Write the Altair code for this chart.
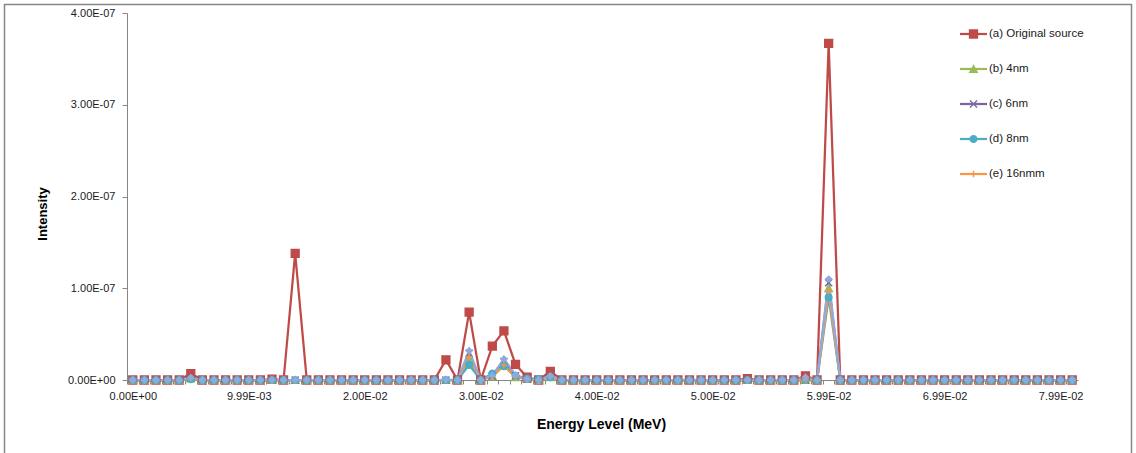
import json
import altair as alt
import pandas as pd

# ---- data (intensity values in units of 1e-9) ----
x_tick_labels = ["0.00E+00", "9.99E-03", "2.00E-02", "3.00E-02", "4.00E-02",
                 "5.00E-02", "5.99E-02", "6.99E-02", "7.99E-02"]
y_tick_labels = ["0.00E+00", "1.00E-07", "2.00E-07", "3.00E-07", "4.00E-07"]
y_tick_values = [0, 1e-7, 2e-7, 3e-7, 4e-7]

series_names = ["(a) Original source", "(b) 4nm", "(c) 6nm", "(d) 8nm", "(e) 16nmm", "series 6"]
legend_names = series_names[:5]

s_a = [0, 0, 0, 0, 0, 7, 0, 0, 0, 0,
       0, 0, 1, 0, 138, 0, 0, 0, 0, 0,
       0, 0, 0, 0, 0, 0, 0, 22, 0, 74,
       0, 37, 53.5, 17, 3, 0, 9.5, 0, 0, 0,
       0, 0, 0, 0, 0, 0, 0, 0, 0, 0,
       0, 0, 0, 1.5, 0, 0, 0, 0, 4.5, 0,
       367, 0, 0, 0, 0, 0, 0, 0, 0, 0,
       0, 0, 0, 0, 0, 0, 0, 0, 0, 0,
       0, 0]
s_b = [0, 0, 0, 0, 0, 1.5, 0, 0, 0, 0,
       0, 0, 0, 0, 0, 0, 0, 0, 0, 0,
       0, 0, 0, 0, 0, 0, 0, 0, 0, 21,
       0, 4, 15.5, 3, 1, 0, 3, 0, 0, 0,
       0, 0, 0, 0, 0, 0, 0, 0, 0.5, 0,
       0, 0, 0, 0, 0, 0, 0, 0, 0, 0,
       100, 0, 0, 0, 0, 0, 0, 0, 0, 0,
       0, 0, 0, 0, 0, 0, 0, 0, 0, 0,
       0, 0]
s_c = [0, 0, 0, 0, 0, 2, 0, 0, 0, 0,
       0, 0, 0, 0, 0, 0, 0, 0, 0, 0,
       0, 0, 0, 0, 0, 0, 0, 0, 0, 29,
       0, 4.5, 20, 4.5, 1, 0, 4, 0, 0, 0,
       0, 0, 0, 0, 0, 0, 0, 0, 0, 0,
       0, 0, 0, 0, 0, 0, 0, 0, 0, 0,
       106, 0, 0, 0, 0, 0, 0, 0, 0, 0,
       0, 0, 0, 0, 0, 0, 0, 0, 0, 0,
       0, 0]
s_d = [0, 0, 0, 0, 0, 1, 0, 0, 0, 0,
       0, 0, 0, 0, 0, 0, 0, 0, 0, 0,
       0, 0, 0, 0, 0, 0, 0, 0, 0, 16.5,
       0, 7, 15, 4.5, 1.5, 1, 3, 0, 0, 0,
       0, 0, 0, 0, 0, 0, 0, 0, 0, 0,
       0, 0, 0, 0, 0, 0, 0, 0, 0, 0,
       90, 0, 0, 0, 0, 0, 0, 0, 0, 0,
       0, 0, 0, 0, 0, 0, 0, 0, 0, 0,
       0, 0]
s_e = [0, 0, 0, 0, 0, 1.5, 0, 0, 0, 0,
       0, 0, 0, 0, 0, 0, 0, 0, 0, 0,
       0, 0, 0, 0, 0, 0, 0, 0, 0, 25.5,
       0, 4, 16, 3.5, 1, 0, 3.5, 0, 0, 0,
       0, 0, 0, 0, 0, 0, 0, 0, 0, 0,
       0, 0, 0, 0, 0, 0, 0, 0, 0, 0,
       97, 0, 0, 0, 0, 0, 0, 0, 0, 0,
       0, 0, 0, 0, 0, 0, 0, 0, 0, 0,
       0, 0]
s_f = [0, 0, 0, 0, 0, 2.5, 0, 0, 0, 0,
       0, 0, 0, 0, 0, 0, 0, 0, 0, 0,
       0, 0, 0, 0, 0, 0, 0, 0.5, 0, 32,
       0, 5, 23, 5.5, 1, 0, 4.5, 0, 0, 0,
       0, 0, 0, 0, 0, 0, 0, 0, 0, 0,
       0, 0, 0, 0, 0, 0, 0, 0, 3, 0,
       110, 0, 0, 0, 0, 0, 0, 0, 0, 0,
       0, 0, 0, 0, 0, 0, 0, 0, 0, 0,
       0, 0]

all_series = [s_a, s_b, s_c, s_d, s_e, s_f]
colors = ["#BE4B48", "#9BBB59", "#8064A2", "#4BACC6", "#F79646", "#8FAADC"]
shapes = ["square", "triangle-up", "M-1,-1L1,1M-1,1L1,-1", "circle", "M-1,0H1M0,-1V1", "diamond"]
sizes = [62, 34, 40, 30, 44, 36]

rows = []
for name, vals in zip(series_names, all_series):
    for i, v in enumerate(vals):
        rows.append({"series": name, "idx": i, "value": v * 1e-9})
df = pd.DataFrame(rows)
legend_df = pd.DataFrame({"series": legend_names})

FONT = "Liberation Sans"
GRAY = "#868686"
TXT = "#1a1a1a"
n_cat = len(s_a)
W, H = 951, 367
half = W / n_cat / 2

cscale = alt.Scale(domain=series_names, range=colors)
shscale = alt.Scale(domain=series_names, range=shapes)
szscale = alt.Scale(domain=series_names, range=sizes)
xscale = alt.Scale(domain=[-0.5, n_cat - 0.5], nice=False, zero=False)
yscale = alt.Scale(domain=[0, 4e-7], nice=False)

x_expr = ("datum.value % 10 === 0 && datum.value <= 80 ? "
          + json.dumps(x_tick_labels) + "[datum.value / 10] : ''")
y_expr = json.dumps(y_tick_labels) + "[round(datum.value * 1e7)]"


def x_axis():
    return alt.Axis(values=list(range(0, n_cat + 1)), tickOffset=-half, labelOffset=half,
                    labelExpr=x_expr, grid=False, domainColor=GRAY, tickColor=GRAY,
                    tickSize=4, labelPadding=6, labelFontSize=11, labelFont=FONT,
                    labelColor=TXT, labelOverlap=False, labelFlush=False, labelBound=False,
                    title="Energy Level (MeV)", titleX=474, titleY=44, titleFont=FONT,
                    titleFontSize=14, titleFontWeight="bold", titleColor="#000000",
                    titleAlign="center", titleBaseline="middle")


def y_axis():
    return alt.Axis(values=y_tick_values, labelExpr=y_expr, grid=False, domainColor=GRAY,
                    tickColor=GRAY, tickSize=5, labelPadding=7, labelFontSize=11,
                    labelFont=FONT, labelColor=TXT, title="Intensity", titleX=-85,
                    titleY=H / 2 + 17, titleFont=FONT, titleFontSize=13,
                    titleFontWeight="bold", titleColor="#000000", titleAlign="center",
                    titleBaseline="middle")


base = alt.Chart(df)
lines = base.mark_line(strokeWidth=2.25, strokeJoin="round").encode(
    x=alt.X("idx:Q", scale=xscale, axis=x_axis()),
    y=alt.Y("value:Q", scale=yscale, axis=y_axis()),
    color=alt.Color("series:N", scale=cscale, legend=None),
)
points = base.mark_point(filled=True, strokeWidth=1.4, opacity=1).encode(
    x=alt.X("idx:Q", scale=xscale, axis=x_axis()),
    y=alt.Y("value:Q", scale=yscale, axis=y_axis()),
    fill=alt.Fill("series:N", scale=cscale, legend=None),
    stroke=alt.Stroke("series:N", scale=cscale, legend=None),
    shape=alt.Shape("series:N", scale=shscale, legend=None),
    size=alt.Size("series:N", scale=szscale, legend=None),
)

# legend entries (drawn as marks, one row per legend entry)
legend_layers = []
for k, name in enumerate(legend_names):
    lb = alt.Chart(legend_df).transform_filter(alt.datum.series == name)
    ypix = 21 + 35 * k
    legend_layers.append(lb.mark_rule(strokeWidth=2.25).encode(
        x=alt.value(833), x2=alt.value(860), y=alt.value(ypix),
        color=alt.Color("series:N", scale=cscale, legend=None)))
    legend_layers.append(lb.mark_point(filled=True, strokeWidth=1.4, opacity=1).encode(
        x=alt.value(846.5), y=alt.value(ypix),
        fill=alt.Fill("series:N", scale=cscale, legend=None),
        stroke=alt.Stroke("series:N", scale=cscale, legend=None),
        shape=alt.Shape("series:N", scale=shscale, legend=None),
        size=alt.Size("series:N", scale=szscale, legend=None)))
    legend_layers.append(lb.mark_text(align="left", baseline="middle", fontSize=11.5,
                                      font=FONT, color=TXT).encode(
        x=alt.value(862), y=alt.value(ypix), text="series:N"))

border = alt.Chart(pd.DataFrame({"k": [0]})).mark_rect(
    fillOpacity=0, stroke=GRAY, strokeWidth=1.5
).encode(x=alt.value(-122.5), x2=alt.value(1004.5), y=alt.value(-8.5), y2=alt.value(470))

chart = alt.layer(lines, points, border, *legend_layers).properties(
    width=W, height=H,
    padding={"left": 127, "top": 13, "right": 58, "bottom": 73},
    autosize=alt.AutoSizeParams(type="none"),
    background="white",
).configure_view(stroke=None)

chart.save("out.html", embed_options={"renderer": "svg", "actions": False})
